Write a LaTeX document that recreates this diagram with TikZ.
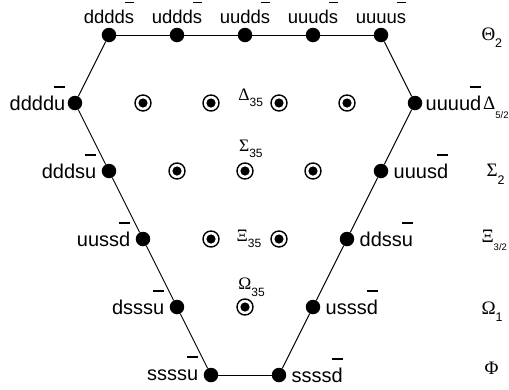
\documentclass[tikz,border=0pt]{standalone}
\usepackage{fontspec}
\setmainfont{Liberation Sans}
\newfontfamily\grk{Liberation Serif}
\usetikzlibrary{arrows.meta}

% antiquark: bar high above the last letter
\newcommand{\bq}[1]{\leavevmode\setbox0\hbox{#1}\rlap{\smash{\raisebox{1.12em}{\rule{\wd0}{0.07em}}}}\box0}
\newcommand{\idx}[1]{\raisebox{-0.4em}{\fontsize{12.5}{12.5}\rmfamily #1}}
\newcommand{\idxf}[1]{\raisebox{-0.45em}{\fontsize{9.5}{9.5}\rmfamily #1}}
\newcommand{\idxs}[1]{\raisebox{-0.35em}{\fontsize{12}{12}\rmfamily #1}}

\begin{document}
\begin{tikzpicture}[x=34pt,y=-68pt,label distance=5pt,
    quark/.style={circle,fill=black,inner sep=0pt,minimum size=14.5pt},
    pair/.style={circle,draw=black,line width=1.4pt,inner sep=0pt,minimum size=16pt,
        path picture={\fill[black] (path picture bounding box.center) circle (4.6pt);}},
    qtop/.style={inner sep=0pt,font=\fontsize{18.5}{18.5}\selectfont},
    qside/.style={inner sep=0pt,font=\fontsize{20}{20}\selectfont},
    multiplet/.style={inner sep=0pt,anchor=west,font=\fontsize{19}{19}\grk},
    inner/.style={inner sep=0pt,anchor=west,font=\fontsize{17.5}{17.5}\grk}]
    \useasboundingbox (-245pt,35pt) rectangle (264pt,-354pt);

    \begin{scope}
        \node[quark,label={[qtop,label distance=3.5pt]above:{dddd\bq{s}}}] (dddds) at (-4,0) {};
        \node[quark,label={[qtop,label distance=3.5pt]above:{uddd\bq{s}}}] (uddds) at (-2,0) {};
        \node[quark,label={[qtop,label distance=3.5pt]above:{uudd\bq{s}}}] (uudds) at (0,0) {};
        \node[quark,label={[qtop,label distance=3.5pt]above:{uuud\bq{s}}}] (uuuds) at (2,0) {};
        \node[quark,label={[qtop,label distance=3.5pt]above:{uuuu\bq{s}}}] (uuuus) at (4,0) {};

        \node[quark,label={[qside,label distance=2pt]left:{dddd\bq{u}}}] (ddddu) at (-5,1) {};
        \node[pair] (d1) at (-3,1) {};
        \node[pair] (d2) at (-1,1) {};
        \node[pair] (d3) at (1,1) {};
        \node[pair] (d4) at (3,1) {};
        \node[quark,label={[qside,label distance=3pt]right:{uuuu\bq{d}}}] (uuuud) at (5,1) {};

        \node[quark,label={[qside]left:{ddds\bq{u}}}] (dddsu) at (-4,2) {};
        \node[pair] (s1) at (-2,2) {};
        \node[pair] (s2) at (0,2) {};
        \node[pair] (s3) at (2,2) {};
        \node[quark,label={[qside]right:{uuus\bq{d}}}] (uuusd) at (4,2) {};

        \node[quark,label={[qside]left:{uuss\bq{d}}}] (uussd) at (-3,3) {};
        \node[pair] (x1) at (-1,3) {};
        \node[pair] (x2) at (1,3) {};
        \node[quark,label={[qside]right:{ddss\bq{u}}}] (ddssu) at (3,3) {};

        \node[quark,label={[qside]left:{dsss\bq{u}}}] (dsssu) at (-2,4) {};
        \node[pair] (o1) at (0,4) {};
        \node[quark,label={[qside]right:{usss\bq{d}}}] (usssd) at (2,4) {};

        \node[quark,label={[qside]left:{ssss\bq{u}}}] (ssssu) at (-1,5) {};
        \node[quark,label={[qside]right:{ssss\bq{d}}}] (ssssd) at (1,5) {};
    \end{scope}

    % multiplet names
    \node[inner] (delta35) at (-0.2,0.92) {Δ\idxs{35}};
    \node[inner] (sigma35) at (-0.18,1.67) {Σ\idxs{35}};
    \node[inner] (xi35) at (-0.25,3.0) {Ξ\idxs{35}};
    \node[inner] (omega35) at (-0.2,3.71) {Ω\idxs{35}};

    \node[multiplet] (theta) at (6.95,0.04) {Θ\idx{2}};
    \node[multiplet] (delta) at (7.0,1.07) {Δ\idxf{5/2}};
    \node[multiplet] (sigma) at (7.1,2.05) {Σ\idx{2}};
    \node[multiplet] (xi) at (6.95,3.02) {Ξ\idxf{3/2}};
    \node[multiplet] (omega) at (6.95,4.07) {Ω\idx{1}};
    \node[multiplet] (phi) at (7.04,4.9) {Φ};

    \begin{scope}[every edge/.style={draw=black,line width=0.9pt}]
        \path (dddds) edge (uddds);
        \path (uddds) edge (uudds);
        \path (uudds) edge (uuuds);
        \path (uuuds) edge (uuuus);
        \path (uuuus) edge (uuuud);
        \path (uuuud) edge (uuusd);
        \path (uuusd) edge (ddssu);
        \path (ddssu) edge (usssd);
        \path (usssd) edge (ssssd);
        \path (ssssd) edge (ssssu);
        \path (ssssu) edge (dsssu);
        \path (dsssu) edge (uussd);
        \path (uussd) edge (dddsu);
        \path (dddsu) edge (ddddu);
        \path (ddddu) edge (dddds);
    \end{scope}
\end{tikzpicture}
\end{document}
